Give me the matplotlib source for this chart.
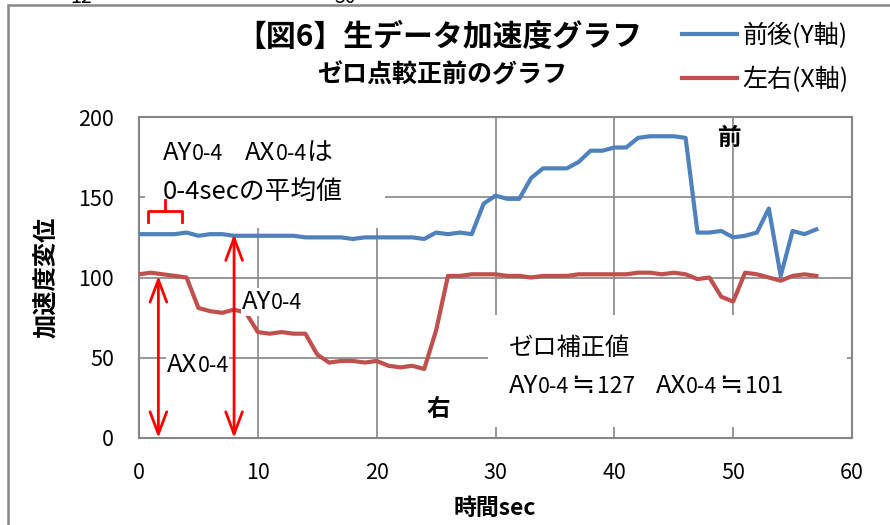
import matplotlib
matplotlib.use("Agg")
import matplotlib.pyplot as plt
from matplotlib.patches import Rectangle

plt.rcParams['font.family'] = ['Noto Sans CJK JP', 'DejaVu Sans']

# --- データ (1秒ごと) ---
time_sec = list(range(58))
front_back = [127, 127, 127, 127, 128, 126, 127, 127, 126, 126,
              126, 126, 126, 126, 125, 125, 125, 125, 124, 125,
              125, 125, 125, 125, 124, 128, 127, 128, 127, 146,
              151, 149, 149, 162, 168, 168, 168, 172, 179, 179,
              181, 181, 187, 188, 188, 188, 187, 128, 128, 129,
              125, 126, 128, 143, 101, 129, 127, 130]
left_right = [102, 103, 102, 101, 100, 81, 79, 78, 80, 78,
              66, 65, 66, 65, 65, 52, 47, 48, 48, 47,
              48, 45, 44, 45, 43, 67, 101, 101, 102, 102,
              102, 101, 101, 100, 101, 101, 101, 102, 102, 102,
              102, 102, 103, 103, 102, 103, 102, 99, 100, 88,
              85, 103, 102, 100, 98, 101, 102, 101]

labels = ['前後(Y軸)', '左右(X軸)']
colors = ['#4F81BD', '#C0504D']
x_ticks = [0, 10, 20, 30, 40, 50, 60]
y_ticks = [0, 50, 100, 150, 200]
ay_avg = 127
ax_avg = 101

GRID = '#868686'

fig = plt.figure(figsize=(8.9, 5.25), dpi=100)
ax = fig.add_axes([139 / 890, 87 / 525, 713 / 890, 321 / 525])

ax.plot(time_sec, front_back, color=colors[0], lw=3, label=labels[0], zorder=3)
ax.plot(time_sec, left_right, color=colors[1], lw=3, label=labels[1], zorder=3)

ax.set_xlim(0, 60)
ax.set_ylim(0, 200)
ax.set_xticks(x_ticks)
ax.set_yticks(y_ticks)
ax.grid(True, color=GRID, lw=1.2)
ax.set_axisbelow(True)
for s in ax.spines.values():
    s.set_color(GRID)
    s.set_linewidth(1.5)
ax.tick_params(length=0, labelsize=15.5)
ax.tick_params(axis='y', pad=18)
ax.tick_params(axis='x', pad=17)

# 白い背景のテキストボックス (グリッドを隠す)
ax.add_patch(Rectangle((0.5, 131), 20.2, 75, facecolor='white', edgecolor='none', zorder=1))
ax.add_patch(Rectangle((29.4, 6.9), 30.2, 69.7, facecolor='white', edgecolor='none', zorder=1))

# タイトル・軸ラベル
fig.text(0.494, 1 - 37 / 525, '【図6】生データ加速度グラフ', ha='center', va='center',
         fontsize=21.5, fontweight='bold')
fig.text(0.497, 1 - 75 / 525, 'ゼロ点較正前のグラフ', ha='center', va='center',
         fontsize=18, fontweight='bold')
fig.text(47 / 890, 1 - 277 / 525, '加速度変位', rotation=90, ha='center', va='center',
         fontsize=17.5, fontweight='bold')
fig.text(495 / 890, 1 - 508 / 525, '時間sec', ha='center', va='center',
         fontsize=16.5, fontweight='bold')

# 上端で切れている文字 (元画像でも切れている)
for xp, s in [(81, '12'), (345, '30')]:
    fig.text(xp / 890, 1 - 3 / 525, s, ha='center', va='baseline', fontsize=14)

# 外枠
fig.patches.append(Rectangle((8 / 890, -0.05), 1.1, 520 / 525 + 0.05, transform=fig.transFigure,
                             fill=False, edgecolor=GRID, lw=1.8))

# 凡例
fig.legend(loc='upper left', bbox_to_anchor=(682 / 890, 1 - 23 / 525), frameon=False,
           fontsize=18, handlelength=2.2, handletextpad=0.22, labelspacing=0.7,
           borderpad=0, borderaxespad=0)

fig.canvas.draw()
renderer = fig.canvas.get_renderer()


def draw_pieces(x, y, pieces, zorder=4):
    # pieces: (文字列, サイズ) または 数値 = 隙間(px)
    px, py = ax.transData.transform((x, y))
    for p in pieces:
        if isinstance(p, (int, float)):
            px += p
            continue
        s, size = p
        t = ax.text(px, py, s, transform=None, fontsize=size, ha='left', va='baseline',
                    zorder=zorder, bbox=dict(facecolor='white', edgecolor='none', pad=0.5))
        px = t.get_window_extent(renderer).x1


draw_pieces(2.0, 173, [('AY', 18.5), ('0-4', 15.5), 22, ('AX', 18.5), ('0-4', 15.5), ('は', 18.5)])
draw_pieces(2.0, 149, [('0-4secの平均値', 18.5)])
draw_pieces(8.67, 80.4, [('AY', 18.5), ('0-4', 15.5)])
draw_pieces(2.36, 41, [('AX', 18.5), ('0-4', 15.5)])
draw_pieces(31.1, 51.7, [('ゼロ補正値', 17.5)])
draw_pieces(31.1, 28, [('AY', 18.5), ('0-4', 15.5), 2, ('≒', 20), 3, (str(ay_avg), 16.5), 20,
                       ('AX', 18.5), ('0-4', 15.5), 2, ('≒', 20), 3, (str(ax_avg), 16.5)])

ax.text(25.2, 18, '右', ha='center', va='center', fontsize=17, fontweight='bold', zorder=4)
ax.text(49.7, 187, '前', ha='center', va='center', fontsize=17, fontweight='bold', zorder=4)

# 赤い矢印 (平均値の高さ)
for xa, ya in [(1.63, ax_avg), (8.0, ay_avg)]:
    ax.annotate('', xy=(xa, 0), xytext=(xa, ya), zorder=6, annotation_clip=False,
                arrowprops=dict(arrowstyle='<->,head_length=0.8,head_width=0.3', color='red',
                                lw=2, mutation_scale=20, shrinkA=0, shrinkB=0))

# 0-4secを示す括弧
ax.plot([0.76, 0.76, 3.6, 3.6], [134.8, 141.4, 141.4, 134.8], color='red', lw=2, zorder=6)
ax.plot([2.2, 2.2], [141.4, 148], color='red', lw=2, zorder=6)

fig.savefig('out.png', dpi=100)
